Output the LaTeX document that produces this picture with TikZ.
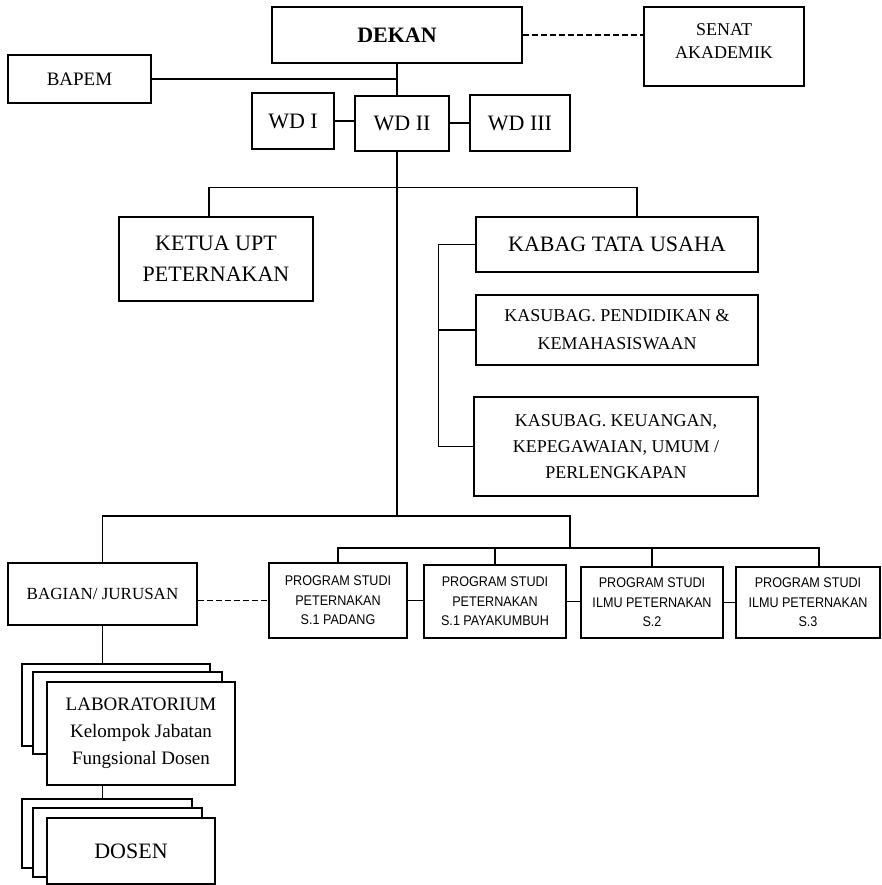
\documentclass[tikz,border=0pt]{standalone}
\usepackage{fontspec}
\setmainfont{Liberation Serif}
\newfontfamily\prodifont[FakeStretch=0.9]{Liberation Sans}

\begin{document}
\begin{tikzpicture}[x=1pt, y=-1pt, line width=1.3pt,
  box/.style={draw, fill=white, inner sep=0pt, align=center},
  big/.style={box, font=\fontsize{22}{31}\selectfont},
  mid/.style={box, font=\fontsize{18}{27}\selectfont},
  prodi/.style={box, font=\prodifont\fontsize{14}{19.5}\selectfont},
  dashline/.style={dash pattern=on 6pt off 3pt}]
\useasboundingbox (0,0) rectangle (882,885);

% Pimpinan
\node[big, font=\bfseries\fontsize{22}{26}\selectfont, minimum width=250, minimum height=56] (dekan) at (397,35) {DEKAN};
\node[mid, font=\fontsize{18}{23}\selectfont, minimum width=160, minimum height=79] (senat) at (724,46.5) {SENAT\\AKADEMIK\\[-12pt]\mbox{}};
\node[mid, font=\fontsize{19}{23}\selectfont, minimum width=143, minimum height=48] (bapem) at (79.5,79) {BAPEM};
\node[big, minimum width=82, minimum height=56] (wd1) at (293,121) {WD I};
\node[big, minimum width=94, minimum height=55] (wd2) at (402,123.5) {WD II};
\node[big, minimum width=100, minimum height=56] (wd3) at (520,123) {WD III};

\draw[dashline] (dekan.east) -- (dekan.east -| senat.west);
\draw (bapem.east) -- (bapem.east -| dekan.south);
\draw (dekan.south) -- (dekan.south |- wd2.north);
\draw (wd1.east) -- (wd1.east -| wd2.west);
\draw (wd3.west) -- (wd3.west -| wd2.east);

% UPT dan tata usaha
\node[big, minimum width=194, minimum height=84] (ketua) at (216,259) {KETUA UPT\\PETERNAKAN};
\node[big, minimum width=282, minimum height=55] (kabag) at (617,244.5) {KABAG TATA USAHA};
\node[mid, font=\fontsize{18}{28}\selectfont, minimum width=282, minimum height=70] (kas1) at (617,330) {KASUBAG. PENDIDIKAN \&\\KEMAHASISWAAN};
\node[mid, font=\fontsize{18}{26}\selectfont, minimum width=284, minimum height=99] (kas2) at (616,446.5) {KASUBAG. KEUANGAN,\\KEPEGAWAIAN, UMUM /\\PERLENGKAPAN};

\draw ([xshift=-7pt]ketua.north) |- ([xshift=20pt,yshift=29pt]kabag.north) -- ([xshift=20pt]kabag.north);
\draw (kabag.west) -- ++(-37,0) |- (kas2.west);
\draw (kas1.west) -- ++(-37,0);

% Jurusan dan program studi
\coordinate (j1) at (397,516);
\coordinate (j2) at (570,516);
\coordinate (j3) at (570,548);
\node[mid, font=\fontsize{17}{20}\selectfont, minimum width=189, minimum height=62] (bagian) at (102.5,594) {BAGIAN/ JURUSAN};
\node[prodi, minimum width=138, minimum height=75] (p1) at (338,600.5) {PROGRAM STUDI\\PETERNAKAN\\S.1 PADANG};
\node[prodi, minimum width=142, minimum height=73] (p2) at (495,601.5) {PROGRAM STUDI\\PETERNAKAN\\S.1 PAYAKUMBUH};
\node[prodi, minimum width=142, minimum height=71] (p3) at (652,602.5) {PROGRAM STUDI\\ILMU PETERNAKAN\\S.2};
\node[prodi, minimum width=144, minimum height=71] (p4) at (808,602.5) {PROGRAM STUDI\\ILMU PETERNAKAN\\S.3};

\draw (dekan.south |- wd2.south) -- (j1);
\draw (bagian.north) |- (j2) -- (j3);
\draw (p1.north) |- (j3) -| ([xshift=11pt]p4.north);
\draw (p2.north) -- (p2.north |- j3);
\draw (p3.north) -- (p3.north |- j3);
\draw[dashline] (p1.west -| bagian.east) -- (p1.west);
\draw (p1.east) -- (p1.east -| p2.west);
\draw (p2.east) -- (p2.east -| p3.west);
\draw (p3.east) -- (p3.east -| p4.west);

% Laboratorium dan dosen
\node[box, minimum width=188, minimum height=82] (labc) at (116,705) {};
\node[box, minimum width=189, minimum height=82] (labb) at (127.5,713) {};
\node[box, font=\fontsize{19}{27}\selectfont, minimum width=188, minimum height=103] (lab) at (141,733.5) {LABORATORIUM\\Kelompok Jabatan\\Fungsional Dosen};
\node[box, minimum width=170, minimum height=69] (dosc) at (107,833.5) {};
\node[box, minimum width=169, minimum height=69] (dosb) at (117.5,842.5) {};
\node[big, minimum width=168, minimum height=66] (dos) at (131,851) {DOSEN};

\draw (bagian.south) -- (bagian.south |- labc.north);
\draw (bagian.south |- lab.south) -- (bagian.south |- dosc.north);
\end{tikzpicture}
\end{document}
